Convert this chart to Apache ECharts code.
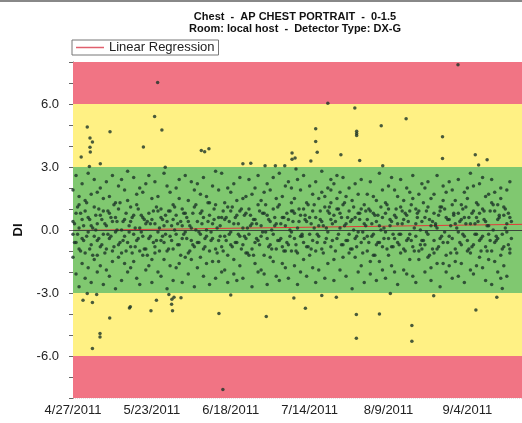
<!DOCTYPE html>
<html>
<head>
<meta charset="utf-8">
<script src="https://cdn.jsdelivr.net/npm/echarts@6/dist/echarts.min.js"></script>
<style>
  html, body { margin: 0; padding: 0; background: #fff; }
  #chart { width: 522px; height: 423px; }
</style>
</head>
<body>
<div id="chart"></div>
<script>
// x values are days after 4/27/2011
const startDate = [2011, 3, 27];
const yTicks = [-6, -3, 0, 3, 6];

// morning readings, one list per day (index = day)
const dailyDI = [
  [0.4,-1.3,1.9,-0.2],[-2.1,0.8,2.6,-0.6],[1.2,-0.9,0.1,-2.7,1.6],[-1.6,2.2,0.5,-0.4],[0.9,-2.3,1.4,-1.1],
  [2.7,-0.1,-1.8,0.6],[-0.7,1.7,-2.5,0.2],[1.1,-1.4,2.4,-0.3],[-0.5,0.3,-2.0,1.8,-1.2],[2.0,-0.8,0.7,-1.7],
  [-2.6,1.5,-0.2,0.9],[0.2,-1.9,2.3,-0.9],[1.6,-0.4,-2.2,0.8],[-1.0,2.6,0.4,-1.5],[0.6,-2.8,1.3,-0.1],
  [-1.3,1.0,2.1,-0.7],[2.4,-1.1,0.0,-2.4],[-0.3,1.9,-1.6,0.5],[1.4,-0.6,2.8,-2.0],[-1.8,0.4,1.1,-0.8],
  [0.7,-1.5,2.5,-0.2],[-2.3,1.2,-0.5,1.7],[0.1,-1.0,2.0,-2.6],[1.8,-0.3,-1.2,0.6],[-0.9,2.2,0.3,-1.9],
  [2.6,-1.7,0.8,-0.4],[-1.4,0.5,1.5,-2.5],[0.3,-0.8,2.3,-1.1],[-2.0,1.6,-0.1,0.9],[1.0,-2.2,0.6,-0.5],
  [-0.6,2.7,-1.4,0.2],[2.1,-1.0,0.4,-2.8],[-1.7,0.9,1.8,-0.3],[0.5,-2.4,1.2,-0.9],[-0.2,2.0,-1.8,0.7],
  [1.5,-0.7,2.4,-1.6],[-2.5,0.2,1.0,-0.4],[0.8,-1.3,2.6,-0.1],[-1.1,1.4,-2.1,0.4],[2.3,-0.5,0.1,-1.4],
  [-0.8,1.1,-2.7,1.9],[0.4,-1.8,2.2,-0.6],[1.7,-0.2,-1.3,0.8],[-2.2,2.5,0.6,-0.9],[0.0,-1.6,1.6,-0.3],
  [1.3,-2.6,0.7,-1.0],[-0.4,2.1,-1.5,0.3],[2.8,-0.9,1.2,-2.3],[-1.5,0.6,1.9,-0.5],[0.6,-2.0,2.7,-0.8],
  [-1.9,1.3,-0.3,0.5],[1.1,-1.2,2.0,-2.5],[-0.1,1.8,-0.7,0.9],[2.2,-1.4,0.3,-2.1],[-2.4,0.7,1.4,-0.6],
  [0.9,-0.3,2.5,-1.7],[-0.7,1.5,-2.3,0.1],[1.6,-1.1,0.8,-0.4],[-1.2,2.4,-0.2,1.0],[0.3,-2.7,1.7,-0.9],
  [2.0,-0.6,-1.6,0.5],[-0.5,1.2,2.6,-2.0],[1.4,-1.9,0.2,-0.3],[-2.1,0.8,1.8,-1.2],[0.7,-0.4,2.2,-2.6],
  [-1.3,1.9,0.4,-0.7],[2.5,-1.5,1.0,-0.2],[-0.9,0.3,-2.2,1.5],[1.2,-2.4,2.7,-0.5],[-1.6,1.6,-0.8,0.6],
  [0.2,-1.0,2.1,-1.8],[2.3,-0.7,0.5,-2.3],[-1.0,1.3,-0.1,0.9,2.0],[0.8,-1.7,1.5,-0.4],[-2.6,2.4,0.1,-1.1],
  [1.9,-0.3,0.7,-2.0],[-0.6,1.0,2.6,-1.4],[0.4,-2.2,1.3,-0.8],[2.1,-1.2,-0.2,0.6],[-1.8,0.9,1.7,-0.5],
  [0.6,-2.5,2.3,-1.0],[-0.3,1.5,-1.9,0.2],[1.8,-0.9,0.4,2.8],[-2.3,1.1,-0.6,1.6],[0.9,-1.6,2.0,-0.1],
  [1.3,2.4,-0.8,0.5,1.9],[-1.4,0.7,2.2,-2.4],[2.6,1.0,-0.4,1.5],[0.1,-1.9,1.8,0.8],[-0.7,2.5,1.2,-1.3],
  [1.6,-0.5,0.3,-2.2],[-1.1,2.0,0.9,-0.2],[0.5,-2.8,1.4,-0.9],[2.2,-1.3,0.6,-0.4],[-2.0,1.7,-0.1,0.8],
  [1.0,-0.6,2.4,-1.7],[-0.4,1.2,-2.5,0.3],[1.7,-1.0,0.5,-0.3],[-1.5,2.3,0.9,-2.1],[0.8,-0.2,1.6,-1.2],
  [-2.4,1.4,-0.7,0.4],[2.7,-1.5,0.2,-0.6],[-0.8,0.6,1.9,-1.9],[1.3,-2.3,0.8,-0.1],[-1.2,2.1,-0.4,1.0],
  [0.4,-1.7,2.5,-0.8],[1.9,-0.4,-2.0,0.7],[-0.6,1.6,0.3,-2.6],[2.4,-1.1,1.1,-0.2],[-1.9,0.5,1.4,-0.9],
  [0.7,-2.1,2.0,-0.5],[-0.2,1.8,-1.4,0.9],[1.5,-0.8,2.6,-2.2],[-2.5,0.3,1.0,-0.3],[0.9,-1.4,1.7,-1.0],
  [-0.5,2.2,-0.9,0.4],[2.0,-2.0,0.6,-0.7],[-1.3,1.1,2.3,-0.2],[0.2,-1.8,1.5,-2.4],[1.7,-0.5,-1.1,0.8],
  [-0.9,2.6,0.1,-1.6],[1.1,-2.7,0.9,-0.4],[-1.6,1.4,2.1,-0.6],[0.6,-1.2,1.8,-2.0],[2.3,-0.3,-1.7,0.5],
  [-0.4,1.9,-2.3,1.2],[1.4,-0.9,0.3,-1.5],[-2.2,0.8,2.4,-0.1],[0.5,-1.6,1.2,-0.7],[1.8,-2.5,0.6,-0.3],
  [-1.0,2.0,-0.5,1.5],[0.3,-1.9,2.7,-1.1],[2.1,-0.7,0.9,-2.1],[-1.7,1.3,-0.2,0.6],[0.8,-1.3,2.2,-0.5],
  [-0.3,2.5,-1.8,1.0],[1.6,-2.4,0.4,-0.8],[-1.4,1.7,0.2,-0.2],[2.4,-1.0,1.3,-2.6],[-0.6,0.9,-1.5,1.8],
  [1.2,-2.0,0.5,-0.4],[-2.3,1.5,2.0,-1.2],[0.7,-0.8,1.1,-1.7],[1.9,-0.1,-2.2,0.3],[-1.1,2.3,0.6,-0.9]
];

// afternoon readings (plotted half a day later), one list per day
const dailyPM = [
  [0.3,-0.6],[-0.2,1.1],[0.8,-1.0],[-0.5,0.2],[1.3,-0.3],[-0.9,0.5],[0.1,-1.2],[0.7,0.0],[-0.4,1.0],[0.5,-0.7],
  [-1.1,0.3],[0.9,-0.2],[-0.3,0.6],[1.2,-0.8],[0.0,0.4],[-0.6,1.3],[0.4,-0.5],[-1.0,0.8],[0.2,-0.1],[0.6,-1.1],
  [-0.8,0.1],[1.0,-0.4],[-0.1,0.7],[0.5,-0.9],[-1.2,0.4],[0.3,-0.3],[0.9,-0.6],[-0.5,1.1],[0.1,-1.0],[-0.3,0.5],
  [0.7,-0.2],[-0.9,0.9],[0.2,-0.5],[1.1,0.0],[-0.7,0.3],[0.4,-1.2],[-0.2,0.8],[0.6,-0.4],[-1.0,0.2],[0.8,-0.7],
  [0.0,1.2],[-0.6,-0.1],[0.3,0.9],[-0.4,-0.8],[1.3,0.4],[-0.1,-0.5],[0.5,1.0],[-1.1,0.1],[0.2,-0.3],[0.9,-1.0],
  [-0.5,0.6],[0.4,-0.2],[-0.8,1.1],[0.6,-0.6],[-0.2,0.3],[1.0,-0.9],[-0.3,0.7],[0.1,-1.1],[0.7,0.2],[-1.2,0.5],
  [0.3,-0.4],[-0.7,0.9],[0.8,-0.1],[-0.1,1.2],[0.5,-0.8],[-0.9,0.0],[0.2,0.6],[1.1,-0.5],[-0.4,0.3],[0.6,-1.0],
  [-0.6,0.8],[0.0,-0.3],[0.9,0.4],[-1.0,-0.7],[0.4,1.0],[-0.3,-0.2],[0.7,0.5],[-0.8,1.2],[0.3,-0.9],[1.2,0.1],
  [-0.2,-0.6],[0.5,0.9],[-1.1,0.2],[0.1,-0.4],[0.8,1.1],[-0.5,0.3],[0.4,-1.0],[1.0,-0.2],[-0.7,0.6],[0.2,1.3],
  [0.6,-0.5],[-0.9,0.4],[1.1,0.0],[-0.3,-0.8],[0.5,0.8],[-0.1,-1.1],[0.9,0.2],[-0.6,1.0],[0.3,-0.3],[-1.2,0.7],
  [0.7,-0.6],[0.0,1.1],[-0.4,0.1],[1.2,-0.9],[0.2,0.5],[-0.8,-0.2],[0.6,1.0],[-0.2,-0.7],[0.9,0.3],[-1.0,0.8],
  [0.4,-0.4],[-0.5,1.2],[0.1,-1.0],[0.8,0.6],[-0.7,0.0],[1.3,-0.5],[-0.1,0.9],[0.5,-1.2],[-0.9,0.4],[0.3,0.2],
  [0.7,-0.8],[-0.3,1.1],[1.0,-0.1],[-0.6,0.5],[0.2,-1.1],[0.8,0.7],[-1.1,0.1],[0.4,-0.6],[-0.2,1.0],[1.1,0.3],
  [0.6,-0.9],[-0.8,0.8],[0.3,-0.2],[1.2,0.4],[-0.4,-1.0],[0.5,0.9],[-1.0,0.2],[0.9,-0.5],[0.0,1.2],[-0.5,-0.3],
  [0.7,0.6],[-0.2,-0.9],[1.0,0.1],[-0.7,0.8],[0.4,-0.4]
];

// readings outside the green band: [day, DI]
const outliers = [
  [27.9,7.02],[26.9,5.4],[29.3,4.76],[12.2,4.68],[4.7,4.9],[5.6,4.38],[6.4,4.19],[5.6,3.94],[5.7,3.72],
  [2.7,3.48],[23.2,3.95],[42.3,3.78],[43.4,3.73],[44.8,3.87],[9.0,3.15],[5.4,3.02],[30.4,2.99],
  [3.3,-3.34],[6.4,-3.45],[7.8,-3.07],[4.7,-3.02],[18.9,-3.65],[18.6,-3.72],[12.1,-4.19],[25.7,-3.84],
  [27.5,-3.35],[31.6,-3.07],[33.3,-3.2],[32.6,-3.3],[32.5,-3.53],[32.8,-3.84],[35.6,-3.23],[8.9,-4.93],
  [8.9,-5.1],[6.4,-5.64],
  [84,6.03],[92.9,5.81],[80,4.82],[80,4.22],[93.5,4.7],[93.5,4.6],[93.5,4.5],[80.5,3.7],[72.2,3.67],
  [73.2,3.43],[72.2,3.37],[78.4,3.29],[88.3,3.58],[56,3.15],[58.6,3.18],[63.3,3.06],[66.7,3.06],
  [69.8,3.06],[73.5,2.91],
  [52,-3.09],[48.1,-3.98],[63.7,-4.12],[72.8,-3.24],[76.6,-3.73],[82,-3.12],[86.8,-3.2],[93.4,-4.02],
  [93.4,-5.16],[49.4,-7.59],
  [126.9,7.87],[109.8,5.3],[101.6,4.97],[121.8,4.44],[121.8,3.4],[94.5,3.31],[102.1,3.06],[132.6,3.58],
  [136.5,3.35],[133.7,3.1],
  [104.6,-3.02],[118.9,-3.13],[139.7,-3.2],[101,-4.0],[132.8,-3.81],[111.7,-4.55],[111.7,-5.3],[141.5,-2.79]
];

// regression end points
const regDays = [0, 148];
const regDI = [-0.02, 0.27];

// bands [from, to, colour]
const bands = [
  [6, 8, '#f17484'],
  [3, 6, '#fff184'],
  [-3, 3, '#80c870'],
  [-6, -3, '#fff184'],
  [-8, -6, '#f17484']
];

const points = [];
dailyDI.forEach((vals, d) => vals.forEach(v => points.push([d, v])));
dailyPM.forEach((vals, d) => vals.forEach(v => points.push([d + 0.5, v])));
outliers.forEach(p => points.push(p));

function dayLabel(v) {
  const dt = new Date(startDate[0], startDate[1], startDate[2] + v);
  return (dt.getMonth() + 1) + '/' + dt.getDate() + '/' + dt.getFullYear();
}

const font = 'Liberation Sans, Arial, sans-serif';
const regColor = '#e23a3a';
let chart = echarts.init(document.getElementById('chart'));
chart.setOption({
  animation: false,
  backgroundColor: '#fff',
  textStyle: { fontFamily: font },
  title: {
    text: 'Chest  -  AP CHEST PORTRAIT  -  0-1.5\nRoom: local host  -  Detector Type: DX-G',
    left: 290, top: 6, textAlign: 'center',
    textStyle: { fontSize: 11, fontWeight: 'bold', color: '#111', lineHeight: 12, fontFamily: font }
  },
  legend: {
    data: [{ name: 'Linear Regression', icon: 'rect', itemStyle: { color: '#e0606e', borderWidth: 0, opacity: 1 } }],
    left: 72, top: 40,
    backgroundColor: '#fff', borderColor: '#777', borderWidth: 1,
    padding: [1, 4, 1, 4],
    itemWidth: 28, itemHeight: 1.5, itemGap: 6,
    textStyle: { fontSize: 13, color: '#222', fontFamily: font }
  },
  graphic: [{
    type: 'line', shape: { x1: 0, y1: 1, x2: 522, y2: 1 },
    style: { stroke: '#888', lineWidth: 2 }
  }],
  grid: { left: 73, right: 0, top: 62, bottom: 25 },
  xAxis: [{
    type: 'value', min: 0, max: 148, interval: 26,
    axisLine: { lineStyle: { color: '#777' } },
    axisTick: { inside: true, length: 5, lineStyle: { color: '#777' } },
    minorTick: { show: true, splitNumber: 4, length: 3, lineStyle: { color: '#777' } },
    splitLine: { show: false },
    axisLabel: {
      formatter: dayLabel, fontSize: 13, color: '#222', margin: 6,
      showMaxLabel: false, fontFamily: font
    }
  }, {
    type: 'value', position: 'top', min: 0, max: 148, interval: 26,
    axisLine: { lineStyle: { color: '#999' } },
    axisTick: { inside: true, length: 5, lineStyle: { color: '#888' } },
    minorTick: { show: true, splitNumber: 4, length: 3, lineStyle: { color: '#888' } },
    splitLine: { show: false },
    axisLabel: { show: false }
  }],
  yAxis: {
    type: 'value', min: -8, max: 8, interval: 1,
    name: 'DI', nameLocation: 'middle', nameGap: 48,
    nameTextStyle: { fontSize: 13, fontWeight: 'bold', color: '#111', fontFamily: font },
    axisLine: { show: true, lineStyle: { color: '#666' } },
    axisTick: { show: true, length: 4, lineStyle: { color: '#666' } },
    splitLine: { show: true, lineStyle: { type: 'dotted', color: 'rgba(0,0,0,0.12)' } },
    axisLabel: {
      fontSize: 13, color: '#222', margin: 14, fontFamily: font,
      formatter: v => (yTicks.indexOf(v) >= 0 ? v.toFixed(1) : '')
    }
  },
  series: [{
    name: 'bands', type: 'scatter', data: [], silent: true, z: -1,
    markArea: {
      silent: true,
      data: bands.map(b => [
        { yAxis: b[0], itemStyle: { color: b[2] } },
        { yAxis: b[1] }
      ])
    }
  }, {
    name: 'DI', type: 'scatter', data: points, symbolSize: 3.5, z: 5,
    itemStyle: { color: '#1c3528' }, silent: true
  }, {
    name: 'Linear Regression', type: 'line',
    data: regDays.map((d, i) => [d, regDI[i]]),
    symbol: 'none', silent: true, z: 4,
    lineStyle: { color: regColor, width: 1 },
    itemStyle: { color: regColor },
    markLine: {
      silent: true, symbol: 'none', label: { show: false },
      lineStyle: { color: '#3c463c', width: 1, type: 'solid' },
      data: [{ yAxis: 0 }]
    }
  }]
});
</script>
</body>
</html>
